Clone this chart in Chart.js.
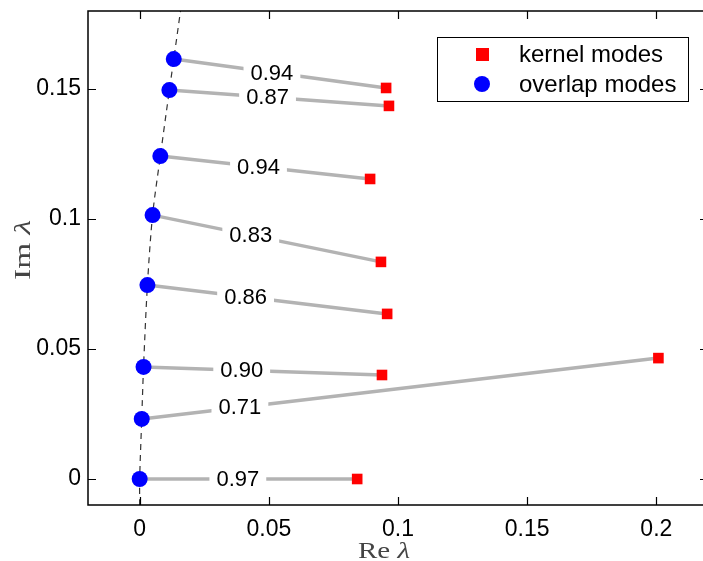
<!DOCTYPE html>
<html>
<head>
<meta charset="utf-8">
<script src="https://cdn.jsdelivr.net/npm/chart.js@4.4.1/dist/chart.umd.min.js"></script>
<style>
html, body { margin: 0; padding: 0; background: #fff; overflow: hidden; }
</style>
</head>
<body>
<canvas id="modesChart" width="716" height="561"></canvas>
<script>
// overlap modes (blue circles) and the kernel modes they pair with (red squares)
const overlapRe = [0, 0.0008, 0.0015, 0.003, 0.005, 0.008, 0.0115, 0.0132];
const overlapIm = [0, 0.0231, 0.0431, 0.0746, 0.1015, 0.1242, 0.1496, 0.1615];
const kernelRe = [0.0842, 0.2008, 0.0938, 0.0958, 0.0934, 0.0892, 0.0965, 0.0954];
const kernelIm = [0, 0.0465, 0.0400, 0.0635, 0.0835, 0.1154, 0.1435, 0.1504];
const overlapLabels = ["0.97", "0.71", "0.90", "0.86", "0.83", "0.94", "0.87", "0.94"];

// dashed curve through the overlap modes
const curveRe = [0, 0, 0.0008, 0.0015, 0.003, 0.005, 0.008, 0.0115, 0.0132, 0.0158];
const curveIm = [-0.01, 0, 0.0231, 0.0431, 0.0746, 0.1015, 0.1242, 0.1496, 0.1615, 0.18];

const xTicks = [0, 0.05, 0.1, 0.15, 0.2];
const yTicks = [0, 0.05, 0.1, 0.15];

const sansFamily = "'Liberation Sans', Arial, sans-serif";
const titleFamily = "'Liberation Serif', 'DejaVu Serif', serif";

const pairSets = overlapRe.map((re, i) => ({
    type: 'line',
    data: [{ x: re, y: overlapIm[i] }, { x: kernelRe[i], y: kernelIm[i] }],
    borderColor: '#b3b3b3',
    borderWidth: 3.5,
    pointRadius: 0,
    order: 3
}));

// drop the label overflow padding so the plot box sits where we put it
function fixPadding(s) {
    s.paddingTop = 0;
    s.paddingBottom = 0;
    s.paddingLeft = 0;
    s.paddingRight = 0;
}

// frame, inward ticks, pair labels, legend and axis titles
const decorations = {
    id: 'decorations',
    afterDatasetsDraw(chart) {
        const ctx = chart.ctx;
        const a = chart.chartArea;
        const xs = chart.scales.x;
        const ys = chart.scales.y;
        ctx.save();

        // labels sitting on the grey lines
        ctx.font = "22px " + sansFamily;
        ctx.textAlign = 'center';
        ctx.textBaseline = 'middle';
        overlapLabels.forEach((lab, i) => {
            const lx = overlapRe[i] + 0.038;
            const t = (lx - overlapRe[i]) / (kernelRe[i] - overlapRe[i]);
            const ly = overlapIm[i] + t * (kernelIm[i] - overlapIm[i]);
            const px = xs.getPixelForValue(lx);
            const py = ys.getPixelForValue(ly);
            const w = ctx.measureText(lab).width;
            ctx.fillStyle = '#fff';
            ctx.fillRect(px - w / 2 - 7, py - 11, w + 14, 22);
            ctx.fillStyle = '#000';
            ctx.fillText(lab, px, py + 1);
        });

        // frame
        ctx.strokeStyle = '#000';
        ctx.lineWidth = 1.5;
        ctx.strokeRect(a.left, a.top, a.right - a.left, a.bottom - a.top);

        // inward ticks on all sides
        ctx.lineWidth = 1.2;
        ctx.beginPath();
        xTicks.forEach(v => {
            const p = Math.round(xs.getPixelForValue(v)) + 0.5;
            ctx.moveTo(p, a.bottom); ctx.lineTo(p, a.bottom - 8);
            ctx.moveTo(p, a.top); ctx.lineTo(p, a.top + 8);
        });
        yTicks.forEach(v => {
            const p = Math.round(ys.getPixelForValue(v)) + 0.5;
            ctx.moveTo(a.left, p); ctx.lineTo(a.left + 8, p);
            ctx.moveTo(a.right, p); ctx.lineTo(a.right - 8, p);
        });
        ctx.stroke();

        // legend
        const lx0 = 437, ly0 = 37, lw = 251, lh = 64;
        ctx.fillStyle = '#fff';
        ctx.fillRect(lx0, ly0, lw, lh);
        ctx.lineWidth = 1;
        ctx.strokeStyle = '#000';
        ctx.strokeRect(lx0 + 0.5, ly0 + 0.5, lw, lh);
        ctx.fillStyle = '#ff0000';
        ctx.fillRect(476, 48, 13, 13);
        ctx.fillStyle = '#0000ff';
        ctx.beginPath();
        ctx.arc(482, 84, 8, 0, Math.PI * 2);
        ctx.fill();
        ctx.fillStyle = '#000';
        ctx.font = "24px " + sansFamily;
        ctx.textAlign = 'left';
        ctx.fillText('kernel modes', 519, 55);
        ctx.fillText('overlap modes', 519, 85);

        // axis titles: roman "Re"/"Im", italic lambda, stretched to a set length
        ctx.fillStyle = '#444';
        ctx.textBaseline = 'alphabetic';
        const drawTitle = (roman, target) => {
            ctx.font = "24px " + titleFamily;
            const w1 = ctx.measureText(roman + ' ').width;
            ctx.font = "italic 24px " + titleFamily;
            const w2 = ctx.measureText('\u03bb').width;
            const k = target / (w1 + w2);
            ctx.scale(k, 1);
            const start = -(w1 + w2) / 2;
            ctx.font = "24px " + titleFamily;
            ctx.fillText(roman + ' ', start, 0);
            ctx.font = "italic 24px " + titleFamily;
            ctx.fillText('\u03bb', start + w1, 0);
        };
        ctx.textAlign = 'left';
        ctx.save();
        ctx.translate(384, 558);
        drawTitle('Re', 52);
        ctx.restore();
        ctx.save();
        ctx.translate(30, 250);
        ctx.rotate(-Math.PI / 2);
        drawTitle('Im', 60);
        ctx.restore();

        ctx.restore();
    }
};

new Chart(document.getElementById('modesChart'), {
    type: 'scatter',
    data: {
        datasets: [
            {
                label: 'overlap modes',
                data: overlapRe.map((re, i) => ({ x: re, y: overlapIm[i] })),
                pointStyle: 'circle',
                pointRadius: 8,
                backgroundColor: '#0000ff',
                borderWidth: 0,
                order: 0
            },
            {
                label: 'kernel modes',
                data: kernelRe.map((re, i) => ({ x: re, y: kernelIm[i] })),
                pointStyle: 'rect',
                pointRadius: 7.5,
                backgroundColor: '#ff0000',
                borderWidth: 0,
                order: 1
            },
            {
                type: 'line',
                data: curveRe.map((re, i) => ({ x: re, y: curveIm[i] })),
                borderColor: '#333',
                borderWidth: 1.2,
                borderDash: [6, 5],
                pointRadius: 0,
                tension: 0.3,
                order: 2
            },
            ...pairSets
        ]
    },
    options: {
        responsive: false,
        animation: false,
        layout: { padding: { top: 11, right: 3, left: 0, bottom: 0 } },
        plugins: { legend: { display: false }, tooltip: { enabled: false } },
        scales: {
            x: {
                type: 'linear',
                min: -0.02,
                max: 0.22,
                afterBuildTicks: s => { s.ticks = xTicks.map(v => ({ value: v })); },
                afterFit: s => { s.height = 56; fixPadding(s); },
                grid: { display: false, drawTicks: false },
                border: { display: false },
                ticks: {
                    padding: 11,
                    color: '#000',
                    font: { family: sansFamily, size: 23 },
                    callback: v => String(+v.toFixed(3))
                }
            },
            y: {
                type: 'linear',
                min: -0.01,
                max: 0.18,
                afterBuildTicks: s => { s.ticks = yTicks.map(v => ({ value: v })); },
                afterFit: s => { s.width = 88; fixPadding(s); },
                grid: { display: false, drawTicks: false },
                border: { display: false },
                ticks: {
                    padding: 7,
                    color: '#000',
                    font: { family: sansFamily, size: 23 },
                    callback: v => String(+v.toFixed(3))
                }
            }
        }
    },
    plugins: [decorations]
});
</script>
</body>
</html>
